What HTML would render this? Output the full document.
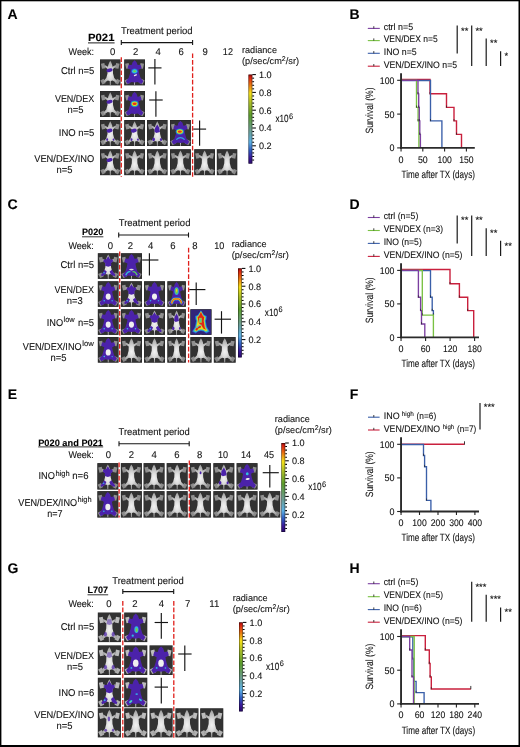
<!DOCTYPE html>
<html><head><meta charset="utf-8"><title>Figure</title>
<style>html,body{margin:0;padding:0;background:#fff}body{width:520px;height:747px;overflow:hidden}svg{display:block;font-family:"Liberation Sans",sans-serif;fill:#111;text-rendering:geometricPrecision}text{stroke:#111;stroke-width:0.1px;paint-order:stroke}</style></head><body>
<svg width="520" height="747" viewBox="0 0 520 747">
<defs>
<linearGradient id="cb" x1="0" y1="0" x2="0" y2="1"><stop offset="0" stop-color="#8a0a0a"/><stop offset="0.03" stop-color="#d82010"/><stop offset="0.11" stop-color="#e87010"/><stop offset="0.21" stop-color="#f4e018"/><stop offset="0.32" stop-color="#a8bc28"/><stop offset="0.46" stop-color="#5a9c2c"/><stop offset="0.62" stop-color="#6c9c8c"/><stop offset="0.76" stop-color="#5cb0e4"/><stop offset="0.85" stop-color="#2f5cc0"/><stop offset="0.93" stop-color="#3a1a9a"/><stop offset="1" stop-color="#2a0a6a"/></linearGradient>
<filter id="bl" x="-5%" y="-5%" width="110%" height="110%"><feGaussianBlur stdDeviation="0.5"/></filter>
<radialGradient id="mg" cx="0.5" cy="0.55" r="0.55"><stop offset="0" stop-color="#f2f2f2"/><stop offset="0.35" stop-color="#dedede"/><stop offset="1" stop-color="#9c9c9c"/></radialGradient>
<symbol id="m" viewBox="0 0 20 26" preserveAspectRatio="none"><rect x="1.4" y="4" width="3.4" height="5.2" fill="#909090" transform="rotate(-12 3 6.5)"/><rect x="15.2" y="4" width="3.4" height="5.2" fill="#909090" transform="rotate(12 17 6.5)"/><rect x="1.2" y="20" width="3.6" height="4.6" fill="#8a8a8a" transform="rotate(-28 3 22.4)"/><rect x="15.2" y="20" width="3.6" height="4.6" fill="#8a8a8a" transform="rotate(28 17 22.4)"/><path d="M10,1.3 L11.1,3.4 L12,5.8 L12.2,7.3 L15.2,5.6 L15.9,7.1 L12.6,9.6 L12.7,14 L13.9,18.6 L16.9,21.8 L15.8,23.3 L12.4,21 L10.5,21.6 L10.35,26 L9.65,26 L9.5,21.6 L7.6,21 L4.2,23.3 L3.1,21.8 L6.1,18.6 L7.3,14 L7.4,9.6 L4.1,7.1 L4.8,5.6 L7.8,7.3 L8,5.8 L8.9,3.4 Z" fill="url(#mg)"/></symbol>
<symbol id="m2" viewBox="0 0 20 26" preserveAspectRatio="none"><rect x="1.4" y="4" width="3.4" height="5.2" fill="#bcbcbc" transform="rotate(-12 3 6.5)"/><rect x="15.2" y="4" width="3.4" height="5.2" fill="#bcbcbc" transform="rotate(12 17 6.5)"/><rect x="1.2" y="20" width="3.6" height="4.6" fill="#b0b0b0" transform="rotate(-28 3 22.4)"/><rect x="15.2" y="20" width="3.6" height="4.6" fill="#b0b0b0" transform="rotate(28 17 22.4)"/><path d="M10,1.3 L11.1,3.4 L12,5.8 L12.2,7.3 L15.2,5.6 L15.9,7.1 L12.6,9.6 L12.7,14 L13.9,18.6 L16.9,21.8 L15.8,23.3 L12.4,21 L10.5,21.6 L10.35,26 L9.65,26 L9.5,21.6 L7.6,21 L4.2,23.3 L3.1,21.8 L6.1,18.6 L7.3,14 L7.4,9.6 L4.1,7.1 L4.8,5.6 L7.8,7.3 L8,5.8 L8.9,3.4 Z" fill="url(#mg)"/></symbol>
<symbol id="o_s" viewBox="0 0 20 26" preserveAspectRatio="none"><ellipse cx="9.3" cy="10.8" rx="3" ry="1.8" fill="#4c22aa" transform="rotate(-14 9.3 10.8)"/></symbol>
<symbol id="o_s2" viewBox="0 0 20 26" preserveAspectRatio="none"><ellipse cx="9.3" cy="10.6" rx="2.9" ry="1.9" fill="#4c22aa" transform="rotate(-14 9.3 10.6)"/><ellipse cx="7" cy="19.6" rx="0.9" ry="1.3" fill="#4c22aa"/><ellipse cx="13.2" cy="19.6" rx="0.8" ry="1.2" fill="#4c22aa"/></symbol>
<symbol id="o_s3" viewBox="0 0 20 26" preserveAspectRatio="none"><g opacity="0.7"><ellipse cx="9.6" cy="9.6" rx="1.1" ry="2.2" fill="#4c22aa"/><ellipse cx="6.8" cy="19.6" rx="1.2" ry="1.4" fill="#4c22aa"/><ellipse cx="13.2" cy="19.6" rx="1" ry="1.3" fill="#4c22aa"/></g></symbol>
<symbol id="o_t" viewBox="0 0 20 26" preserveAspectRatio="none"><ellipse cx="10.2" cy="9.5" rx="0.9" ry="1.5" fill="#4c22aa"/></symbol>
<symbol id="o_m" viewBox="0 0 20 26" preserveAspectRatio="none"><path d="M10,4.4 L11.8,7.6 L12.6,12 L9,13 L7.2,11.6 L7.8,8 Z" fill="#4c22aa"/><ellipse cx="6.4" cy="19.4" rx="1.3" ry="1.8" fill="#4c22aa"/><ellipse cx="13.6" cy="19.4" rx="1" ry="1.5" fill="#4c22aa"/></symbol>
<symbol id="o_l" viewBox="0 0 20 26" preserveAspectRatio="none"><path d="M10,3 L11.8,6 L14.6,6.6 L14.4,9 L12.8,10 L13,12.6 L10,13.6 L7,12.6 L7.2,10 L5.6,9 L5.4,6.6 L8.2,6 Z" fill="#4c22aa"/><path d="M6.4,16.8 L8.6,18.6 L7.4,21.6 L4,23.4 L3,22 L5.2,19 Z" fill="#4c22aa"/><path d="M13.6,16.8 L11.4,18.6 L12.6,21.6 L16,23.4 L17,22 L14.8,19 Z" fill="#4c22aa"/><circle cx="6" cy="19.8" r="0.8" fill="#35b0e6"/></symbol>
<symbol id="o_L" viewBox="0 0 20 26" preserveAspectRatio="none"><path d="M10,0.9 L11.9,2.8 L12.9,5.7 L15.8,5.3 L16.8,8.8 L13.8,10.4 L14.4,14 L15.7,18.4 L18.4,21.8 L16.6,24.6 L12.8,22.5 L10,23.1 L7.2,22.5 L3.4,24.6 L1.6,21.8 L4.3,18.4 L5.6,14 L6.2,10.4 L3.2,8.8 L4.2,5.3 L7.1,5.7 L8.1,2.8 Z" fill="#4c22aa"/><ellipse cx="10" cy="15.6" rx="2.4" ry="3.2" fill="#f0f0f0"/><circle cx="6.2" cy="19.8" r="0.8" fill="#35b0e6"/><circle cx="13.8" cy="19.8" r="0.7" fill="#35b0e6"/></symbol>
<symbol id="o_f" viewBox="0 0 20 26" preserveAspectRatio="none"><path d="M10,0.9 L11.9,2.8 L12.9,5.7 L15.8,5.3 L16.8,8.8 L13.8,10.4 L14.4,14 L15.7,18.4 L18.4,21.8 L16.6,24.6 L12.8,22.5 L10,23.1 L7.2,22.5 L3.4,24.6 L1.6,21.8 L4.3,18.4 L5.6,14 L6.2,10.4 L3.2,8.8 L4.2,5.3 L7.1,5.7 L8.1,2.8 Z" fill="#4c22aa"/></symbol>
<symbol id="o_h1" viewBox="0 0 20 26" preserveAspectRatio="none"><path d="M10,0.9 L11.9,2.8 L12.9,5.7 L15.8,5.3 L16.8,8.8 L13.8,10.4 L14.4,14 L15.7,18.4 L18.4,21.8 L16.6,24.6 L12.8,22.5 L10,23.1 L7.2,22.5 L3.4,24.6 L1.6,21.8 L4.3,18.4 L5.6,14 L6.2,10.4 L3.2,8.8 L4.2,5.3 L7.1,5.7 L8.1,2.8 Z" fill="#4c22aa"/><ellipse cx="10" cy="11.8" rx="3.1" ry="2.7" fill="#2a5fd8"/><ellipse cx="10" cy="11.8" rx="2.4" ry="2" fill="#2fc3e0"/><ellipse cx="10" cy="11.8" rx="1.3" ry="1" fill="#7ad03a"/><ellipse cx="10.8" cy="15.8" rx="1.7" ry="0.7" fill="#eee" transform="rotate(-25 10.8 15.8)"/></symbol>
<symbol id="o_h1b" viewBox="0 0 20 26" preserveAspectRatio="none"><path d="M10,0.9 L11.9,2.8 L12.9,5.7 L15.8,5.3 L16.8,8.8 L13.8,10.4 L14.4,14 L15.7,18.4 L18.4,21.8 L16.6,24.6 L12.8,22.5 L10,23.1 L7.2,22.5 L3.4,24.6 L1.6,21.8 L4.3,18.4 L5.6,14 L6.2,10.4 L3.2,8.8 L4.2,5.3 L7.1,5.7 L8.1,2.8 Z" fill="#4c22aa"/><ellipse cx="10.2" cy="10.4" rx="1.3" ry="1.5" fill="#2fc3e0"/><ellipse cx="10.6" cy="15.6" rx="2" ry="0.9" fill="#eee" transform="rotate(-10 10.6 15.6)"/></symbol>
<symbol id="o_h2" viewBox="0 0 20 26" preserveAspectRatio="none"><path d="M10,0.9 L11.9,2.8 L12.9,5.7 L15.8,5.3 L16.8,8.8 L13.8,10.4 L14.4,14 L15.7,18.4 L18.4,21.8 L16.6,24.6 L12.8,22.5 L10,23.1 L7.2,22.5 L3.4,24.6 L1.6,21.8 L4.3,18.4 L5.6,14 L6.2,10.4 L3.2,8.8 L4.2,5.3 L7.1,5.7 L8.1,2.8 Z" fill="#4c22aa"/><ellipse cx="10" cy="12.8" rx="3.9" ry="3.4" fill="#2a5fd8"/><ellipse cx="10" cy="12.8" rx="3.3" ry="2.8" fill="#2fc3a0"/><ellipse cx="10" cy="12.8" rx="2.7" ry="2.1" fill="#e8e020"/><ellipse cx="10" cy="12.8" rx="2" ry="1.3" fill="#e8301a"/></symbol>
<symbol id="o_h2b" viewBox="0 0 20 26" preserveAspectRatio="none"><path d="M10,0.9 L11.9,2.8 L12.9,5.7 L15.8,5.3 L16.8,8.8 L13.8,10.4 L14.4,14 L15.7,18.4 L18.4,21.8 L16.6,24.6 L12.8,22.5 L10,23.1 L7.2,22.5 L3.4,24.6 L1.6,21.8 L4.3,18.4 L5.6,14 L6.2,10.4 L3.2,8.8 L4.2,5.3 L7.1,5.7 L8.1,2.8 Z" fill="#4c22aa"/><ellipse cx="9.4" cy="11.6" rx="4" ry="3.2" fill="#2a5fd8"/><ellipse cx="9.4" cy="11.6" rx="3.4" ry="2.6" fill="#2fc3a0"/><ellipse cx="9.4" cy="11.6" rx="2.8" ry="2" fill="#e8e020"/><ellipse cx="9.4" cy="11.6" rx="2" ry="1.2" fill="#e8301a"/><path d="M6,19.6 Q10,15.6 14,19.6" stroke="#2fa8e0" stroke-width="1.2" fill="none"/></symbol>
<symbol id="o_h3" viewBox="0 0 20 26" preserveAspectRatio="none"><path d="M10,0.9 L11.9,2.8 L12.9,5.7 L15.8,5.3 L16.8,8.8 L13.8,10.4 L14.4,14 L15.7,18.4 L18.4,21.8 L16.6,24.6 L12.8,22.5 L10,23.1 L7.2,22.5 L3.4,24.6 L1.6,21.8 L4.3,18.4 L5.6,14 L6.2,10.4 L3.2,8.8 L4.2,5.3 L7.1,5.7 L8.1,2.8 Z" fill="#4c22aa"/><path d="M4.6,22.4 Q6.4,18 9,18.8" stroke="#30c0d8" stroke-width="1.3" fill="none"/><path d="M15.4,22.4 Q13.6,18 11,18.8" stroke="#58c860" stroke-width="1.3" fill="none"/><ellipse cx="10" cy="16.6" rx="2.2" ry="0.8" fill="#ddd"/></symbol>
<symbol id="o_h3g" viewBox="0 0 20 26" preserveAspectRatio="none"><path d="M10,0.9 L11.9,2.8 L12.9,5.7 L15.8,5.3 L16.8,8.8 L13.8,10.4 L14.4,14 L15.7,18.4 L18.4,21.8 L16.6,24.6 L12.8,22.5 L10,23.1 L7.2,22.5 L3.4,24.6 L1.6,21.8 L4.3,18.4 L5.6,14 L6.2,10.4 L3.2,8.8 L4.2,5.3 L7.1,5.7 L8.1,2.8 Z" fill="#4c22aa"/><ellipse cx="10.6" cy="15" rx="1.8" ry="3" fill="#2fb8e0"/><ellipse cx="10.8" cy="15.4" rx="0.9" ry="1.8" fill="#7ad03a"/><circle cx="7.4" cy="20.4" r="1" fill="#2fb8e0"/></symbol>
<symbol id="o_h3h" viewBox="0 0 20 26" preserveAspectRatio="none"><path d="M10,0.9 L11.9,2.8 L12.9,5.7 L15.8,5.3 L16.8,8.8 L13.8,10.4 L14.4,14 L15.7,18.4 L18.4,21.8 L16.6,24.6 L12.8,22.5 L10,23.1 L7.2,22.5 L3.4,24.6 L1.6,21.8 L4.3,18.4 L5.6,14 L6.2,10.4 L3.2,8.8 L4.2,5.3 L7.1,5.7 L8.1,2.8 Z" fill="#4c22aa"/><ellipse cx="5.6" cy="21" rx="1.7" ry="0.9" fill="#2fc3e0" transform="rotate(-40 5.6 21)"/><ellipse cx="5.6" cy="21" rx="0.9" ry="0.45" fill="#7ad88a" transform="rotate(-40 5.6 21)"/><ellipse cx="14" cy="19.4" rx="1.5" ry="0.8" fill="#2fc3e0" transform="rotate(40 14 19.4)"/><ellipse cx="10.8" cy="14.4" rx="1.1" ry="0.8" fill="#35a8e8"/></symbol>
<symbol id="o_h4" viewBox="0 0 20 26" preserveAspectRatio="none"><path d="M10,0.9 L11.9,2.8 L12.9,5.7 L15.8,5.3 L16.8,8.8 L13.8,10.4 L14.4,14 L15.7,18.4 L18.4,21.8 L16.6,24.6 L12.8,22.5 L10,23.1 L7.2,22.5 L3.4,24.6 L1.6,21.8 L4.3,18.4 L5.6,14 L6.2,10.4 L3.2,8.8 L4.2,5.3 L7.1,5.7 L8.1,2.8 Z" fill="#4c22aa"/><ellipse cx="10" cy="10" rx="2.4" ry="4" fill="#30a8e0"/><ellipse cx="10" cy="10" rx="1.5" ry="3" fill="#7ad03a"/><ellipse cx="10" cy="9.4" rx="0.7" ry="1.4" fill="#f0d020"/><path d="M4.6,22.4 Q6,17 10,18 Q14,17 15.4,22.4" stroke="#2a5fd8" stroke-width="3.4" fill="none"/><path d="M4.6,22.4 Q6,17 10,18 Q14,17 15.4,22.4" stroke="#40c8a0" stroke-width="2.4" fill="none"/><path d="M4.6,22.4 Q6,17 10,18 Q14,17 15.4,22.4" stroke="#f0d020" stroke-width="1.6" fill="none"/><path d="M4.6,22.4 Q6,17 10,18 Q14,17 15.4,22.4" stroke="#e8301a" stroke-width="0.9" fill="none"/></symbol>
<symbol id="o_h5" viewBox="0 0 20 26" preserveAspectRatio="none"><rect x="0.4" y="0.4" width="19.2" height="25.2" fill="#30257a"/><path d="M10,1 L13,5.6 L15.6,7 L15.4,10 L14.6,12 L15.8,18 L18.4,22.6 L15,24.6 L12.4,22.6 L10,22 L7.6,22.6 L5,24.6 L1.6,22.6 L4.2,18 L5.4,12 L4.6,10 L4.4,7 L7,5.6 Z" fill="#2a55d8"/><path d="M10,1.6 L12.6,6 L14.8,7.4 L14.6,9.8 L13.9,11.8 L15.1,18.2 L17.4,22.2 L14.8,23.6 L12.3,21.8 L10,21.2 L7.7,21.8 L5.2,23.6 L2.6,22.2 L4.9,18.2 L6.1,11.8 L5.4,9.8 L5.2,7.4 L7.4,6 Z" fill="#38c8b8"/><path d="M10,2.2 L12.2,6.6 L13.9,7.9 L13.7,9.8 L13.2,11.8 L14.3,18.4 L16,21.6 L14.4,22.4 L12.2,20.8 L10,20.2 L7.8,20.8 L5.6,22.4 L4,21.6 L5.7,18.4 L6.8,11.8 L6.3,9.8 L6.1,7.9 L7.8,6.6 Z" fill="#e8d820"/><path d="M10,2.8 L11.9,7 L13.2,8.2 L12.9,10 L12.6,12 L13.6,18.4 L14.8,20.8 L12.2,19.4 L10.6,16.4 L8,14 L7.2,10 L6.9,8.2 L8.1,7 Z" fill="#e02818"/><rect x="8.2" y="8.8" width="2.6" height="5" fill="#9ad040"/><rect x="8.8" y="9.6" width="1.4" height="3.2" fill="#58c890"/><path d="M5.4,21.4 Q7,17.4 10,18" stroke="#e02818" stroke-width="1.7" fill="none"/><path d="M6,19 Q8,15.6 10.4,16.2" stroke="#38c8e0" stroke-width="1" fill="none"/></symbol>
<symbol id="o_g1" viewBox="0 0 20 26" preserveAspectRatio="none"><path d="M8.4,6 L11.6,6 L12.4,10 L10,11 L7.6,10 Z" fill="#4c22aa" opacity="0.5"/><ellipse cx="6.6" cy="19.2" rx="1.4" ry="2" fill="#4c22aa" opacity="0.7"/><ellipse cx="13.4" cy="19.2" rx="1.4" ry="2" fill="#4c22aa" opacity="0.7"/></symbol>
</defs>
<rect width="520" height="747" fill="#fff"/>
<g style="opacity:0.999">
<text x="7.6" y="19.3" font-size="14" font-weight="bold" fill="#000" stroke="#000" stroke-width="0.3">A</text>
<text x="349.6" y="19.3" font-size="14" font-weight="bold" fill="#000" stroke="#000" stroke-width="0.3">B</text>
<text x="7.6" y="209.1" font-size="14" font-weight="bold" fill="#000" stroke="#000" stroke-width="0.3">C</text>
<text x="349.6" y="209.1" font-size="14" font-weight="bold" fill="#000" stroke="#000" stroke-width="0.3">D</text>
<text x="7.8" y="399.1" font-size="14" font-weight="bold" fill="#000" stroke="#000" stroke-width="0.3">E</text>
<text x="349.8" y="399.1" font-size="14" font-weight="bold" fill="#000" stroke="#000" stroke-width="0.3">F</text>
<text x="7.6" y="573.1" font-size="14" font-weight="bold" fill="#000" stroke="#000" stroke-width="0.3">G</text>
<text x="349.6" y="572.7" font-size="14" font-weight="bold" fill="#000" stroke="#000" stroke-width="0.3">H</text>
<g id="pA">
<text x="88" y="41.2" font-size="10.5" font-weight="bold" textLength="26.5" lengthAdjust="spacingAndGlyphs" fill="#000">P021</text>
<line x1="88" y1="42.9" x2="114.6" y2="42.9" stroke="#000" stroke-width="0.9"/>
<text x="121" y="33.5" font-size="9.9" textLength="71.6" lengthAdjust="spacingAndGlyphs">Treatment period</text>
<line x1="121.3" y1="42.6" x2="192.6" y2="42.6" stroke="#141414" stroke-width="1.1"/>
<line x1="121.3" y1="40.1" x2="121.3" y2="45.1" stroke="#141414" stroke-width="1.1"/>
<line x1="192.6" y1="40.1" x2="192.6" y2="45.1" stroke="#141414" stroke-width="1.1"/>
<text x="94" y="55" font-size="9.9" text-anchor="end" textLength="25.4" lengthAdjust="spacingAndGlyphs">Week:</text>
<text x="112.6" y="55" font-size="9.8" text-anchor="middle" textLength="5.3" lengthAdjust="spacingAndGlyphs">0</text>
<text x="135.6" y="55" font-size="9.8" text-anchor="middle" textLength="5.3" lengthAdjust="spacingAndGlyphs">2</text>
<text x="158.2" y="55" font-size="9.8" text-anchor="middle" textLength="5.3" lengthAdjust="spacingAndGlyphs">4</text>
<text x="181.2" y="55" font-size="9.8" text-anchor="middle" textLength="5.3" lengthAdjust="spacingAndGlyphs">6</text>
<text x="205.2" y="55" font-size="9.8" text-anchor="middle" textLength="5.3" lengthAdjust="spacingAndGlyphs">9</text>
<text x="227.9" y="55" font-size="9.8" text-anchor="middle" textLength="10.1" lengthAdjust="spacingAndGlyphs">12</text>
<text x="94.4" y="74.2" font-size="9.9" text-anchor="end" textLength="33.5" lengthAdjust="spacingAndGlyphs">Ctrl n=5</text>
<text x="74.6" y="101.6" font-size="9.9" text-anchor="middle" textLength="39.4" lengthAdjust="spacingAndGlyphs">VEN/DEX</text>
<text x="75.4" y="113.4" font-size="9.9" text-anchor="middle" textLength="16" lengthAdjust="spacingAndGlyphs">n=5</text>
<text x="94.4" y="135.6" font-size="9.9" text-anchor="end" textLength="35.6" lengthAdjust="spacingAndGlyphs">INO n=5</text>
<text x="64.2" y="162" font-size="9.9" text-anchor="middle" textLength="60" lengthAdjust="spacingAndGlyphs">VEN/DEX/INO</text>
<text x="64.6" y="172.8" font-size="9.9" text-anchor="middle" textLength="16" lengthAdjust="spacingAndGlyphs">n=5</text>
<rect x="100" y="59.4" width="20.5" height="26" fill="#242424"/><rect x="100.5" y="59.9" width="19.5" height="25" fill="#323232"/>
<rect x="124.2" y="59.4" width="20.8" height="26" fill="#242424"/><rect x="124.7" y="59.9" width="19.8" height="25" fill="#323232"/>
<rect x="100" y="91" width="20.5" height="26" fill="#242424"/><rect x="100.5" y="91.5" width="19.5" height="25" fill="#323232"/>
<rect x="124.2" y="91" width="20.8" height="26" fill="#242424"/><rect x="124.7" y="91.5" width="19.8" height="25" fill="#323232"/>
<rect x="100" y="120" width="20.5" height="26" fill="#242424"/><rect x="100.5" y="120.5" width="19.5" height="25" fill="#323232"/>
<rect x="124.2" y="120" width="20.8" height="26" fill="#242424"/><rect x="124.7" y="120.5" width="19.8" height="25" fill="#323232"/>
<rect x="147" y="120" width="20.6" height="26" fill="#242424"/><rect x="147.5" y="120.5" width="19.6" height="25" fill="#323232"/>
<rect x="170" y="120" width="20.9" height="26" fill="#242424"/><rect x="170.5" y="120.5" width="19.9" height="25" fill="#323232"/>
<rect x="100" y="149.2" width="20.5" height="26" fill="#242424"/><rect x="100.5" y="149.7" width="19.5" height="25" fill="#323232"/>
<rect x="124.2" y="149.2" width="20.8" height="26" fill="#242424"/><rect x="124.7" y="149.7" width="19.8" height="25" fill="#323232"/>
<rect x="147" y="149.2" width="20.6" height="26" fill="#242424"/><rect x="147.5" y="149.7" width="19.6" height="25" fill="#323232"/>
<rect x="170" y="149.2" width="20.9" height="26" fill="#242424"/><rect x="170.5" y="149.7" width="19.9" height="25" fill="#323232"/>
<rect x="194.2" y="149.2" width="20.8" height="26" fill="#242424"/><rect x="194.7" y="149.7" width="19.8" height="25" fill="#323232"/>
<rect x="216.8" y="149.2" width="20.5" height="26" fill="#242424"/><rect x="217.3" y="149.7" width="19.5" height="25" fill="#323232"/>
<g filter="url(#bl)">
<use href="#m" x="100" y="59.4" width="20.5" height="26"/>
<use href="#o_s" x="100" y="59.4" width="20.5" height="26"/>
<use href="#m" x="124.2" y="59.4" width="20.8" height="26"/>
<use href="#o_h1" x="124.2" y="59.4" width="20.8" height="26"/>
<use href="#m" x="100" y="91" width="20.5" height="26"/>
<use href="#o_s" x="100" y="91" width="20.5" height="26"/>
<use href="#m" x="124.2" y="91" width="20.8" height="26"/>
<use href="#o_h2" x="124.2" y="91" width="20.8" height="26"/>
<use href="#m" x="100" y="120" width="20.5" height="26"/>
<use href="#o_s2" x="100" y="120" width="20.5" height="26"/>
<use href="#m" x="124.2" y="120" width="20.8" height="26"/>
<use href="#o_s2" x="124.2" y="120" width="20.8" height="26"/>
<use href="#m" x="147" y="120" width="20.6" height="26"/>
<use href="#o_m" x="147" y="120" width="20.6" height="26"/>
<use href="#m" x="170" y="120" width="20.9" height="26"/>
<use href="#o_h2b" x="170" y="120" width="20.9" height="26"/>
<use href="#m" x="100" y="149.2" width="20.5" height="26"/>
<use href="#o_s" x="100" y="149.2" width="20.5" height="26"/>
<use href="#m" x="124.2" y="149.2" width="20.8" height="26"/>
<use href="#m" x="147" y="149.2" width="20.6" height="26"/>
<use href="#m" x="170" y="149.2" width="20.9" height="26"/>
<use href="#m" x="194.2" y="149.2" width="20.8" height="26"/>
<use href="#m" x="216.8" y="149.2" width="20.5" height="26"/>
</g>
<line x1="154.9" y1="59.1" x2="154.9" y2="84.4" stroke="#141414" stroke-width="1.15"/>
<line x1="148.3" y1="67.9" x2="161.5" y2="67.9" stroke="#141414" stroke-width="1.15"/>
<line x1="155.9" y1="91.3" x2="155.9" y2="116.7" stroke="#141414" stroke-width="1.15"/>
<line x1="149.2" y1="100" x2="162.7" y2="100" stroke="#141414" stroke-width="1.15"/>
<line x1="199.6" y1="120.6" x2="199.6" y2="145.8" stroke="#141414" stroke-width="1.15"/>
<line x1="193.2" y1="129.1" x2="206.1" y2="129.1" stroke="#141414" stroke-width="1.15"/>
<line x1="121.3" y1="57.2" x2="121.3" y2="176.8" stroke="#e0201c" stroke-width="1.3" stroke-dasharray="4.7 1.9"/>
<line x1="192.6" y1="53.4" x2="192.6" y2="176.8" stroke="#e0201c" stroke-width="1.3" stroke-dasharray="4.7 1.9"/>
<rect x="248.5" y="74.6" width="3.8" height="89" fill="url(#cb)"/>
<rect x="248.8" y="74.89999999999999" width="3.1999999999999997" height="88.4" fill="none" stroke="#000" stroke-width="0.6" opacity="0.6"/>
<line x1="252.3" y1="74.6" x2="255.9" y2="74.6" stroke="#000" stroke-width="1.05"/>
<line x1="252.3" y1="78.16" x2="254.10000000000002" y2="78.16" stroke="#000" stroke-width="1.05"/>
<line x1="252.3" y1="81.72" x2="254.10000000000002" y2="81.72" stroke="#000" stroke-width="1.05"/>
<line x1="252.3" y1="85.28" x2="254.10000000000002" y2="85.28" stroke="#000" stroke-width="1.05"/>
<line x1="252.3" y1="88.84" x2="254.10000000000002" y2="88.84" stroke="#000" stroke-width="1.05"/>
<line x1="252.3" y1="92.4" x2="255.9" y2="92.4" stroke="#000" stroke-width="1.05"/>
<line x1="252.3" y1="95.96" x2="254.10000000000002" y2="95.96" stroke="#000" stroke-width="1.05"/>
<line x1="252.3" y1="99.52" x2="254.10000000000002" y2="99.52" stroke="#000" stroke-width="1.05"/>
<line x1="252.3" y1="103.08" x2="254.10000000000002" y2="103.08" stroke="#000" stroke-width="1.05"/>
<line x1="252.3" y1="106.64" x2="254.10000000000002" y2="106.64" stroke="#000" stroke-width="1.05"/>
<line x1="252.3" y1="110.2" x2="255.9" y2="110.2" stroke="#000" stroke-width="1.05"/>
<line x1="252.3" y1="113.76" x2="254.10000000000002" y2="113.76" stroke="#000" stroke-width="1.05"/>
<line x1="252.3" y1="117.32" x2="254.10000000000002" y2="117.32" stroke="#000" stroke-width="1.05"/>
<line x1="252.3" y1="120.88" x2="254.10000000000002" y2="120.88" stroke="#000" stroke-width="1.05"/>
<line x1="252.3" y1="124.44" x2="254.10000000000002" y2="124.44" stroke="#000" stroke-width="1.05"/>
<line x1="252.3" y1="128.0" x2="255.9" y2="128.0" stroke="#000" stroke-width="1.05"/>
<line x1="252.3" y1="131.56" x2="254.10000000000002" y2="131.56" stroke="#000" stroke-width="1.05"/>
<line x1="252.3" y1="135.12" x2="254.10000000000002" y2="135.12" stroke="#000" stroke-width="1.05"/>
<line x1="252.3" y1="138.68" x2="254.10000000000002" y2="138.68" stroke="#000" stroke-width="1.05"/>
<line x1="252.3" y1="142.24" x2="254.10000000000002" y2="142.24" stroke="#000" stroke-width="1.05"/>
<line x1="252.3" y1="145.8" x2="255.9" y2="145.8" stroke="#000" stroke-width="1.05"/>
<line x1="252.3" y1="149.36" x2="254.10000000000002" y2="149.36" stroke="#000" stroke-width="1.05"/>
<line x1="252.3" y1="152.92" x2="254.10000000000002" y2="152.92" stroke="#000" stroke-width="1.05"/>
<line x1="252.3" y1="156.48" x2="254.10000000000002" y2="156.48" stroke="#000" stroke-width="1.05"/>
<line x1="252.3" y1="160.04" x2="254.10000000000002" y2="160.04" stroke="#000" stroke-width="1.05"/>
<text x="259" y="77.9" font-size="9.2" textLength="12.7" lengthAdjust="spacingAndGlyphs">1.0</text>
<text x="259" y="95.7" font-size="9.2" textLength="12.7" lengthAdjust="spacingAndGlyphs">0.8</text>
<text x="259" y="113.5" font-size="9.2" textLength="12.7" lengthAdjust="spacingAndGlyphs">0.6</text>
<text x="259" y="131.3" font-size="9.2" textLength="12.7" lengthAdjust="spacingAndGlyphs">0.4</text>
<text x="259" y="149.1" font-size="9.2" textLength="12.7" lengthAdjust="spacingAndGlyphs">0.2</text>
<text x="275.4" y="122.4" font-size="10.5" textLength="13.2" lengthAdjust="spacingAndGlyphs">x10</text>
<text x="289.09999999999997" y="118.80000000000001" font-size="8" textLength="4.1" lengthAdjust="spacingAndGlyphs">6</text>
<text x="242" y="53.2" font-size="9.2" textLength="35" lengthAdjust="spacingAndGlyphs">radiance</text>
<text x="242" y="63.800000000000004" font-size="9.2">(p/sec/cm<tspan font-size="7" dy="-3">2</tspan><tspan dy="3">/sr)</tspan></text>
</g>
<g id="pB">
<line x1="367.8" y1="28.4" x2="379.8" y2="28.4" stroke="#7b3fa0" stroke-width="1.1"/>
<line x1="373.8" y1="26.2" x2="373.8" y2="28.4" stroke="#111" stroke-width="0.8"/>
<text x="383.7" y="29.799999999999997" font-size="9.3" textLength="29.4" lengthAdjust="spacingAndGlyphs">ctrl n=5</text>
<line x1="367.8" y1="40.6" x2="379.8" y2="40.6" stroke="#79c143" stroke-width="1.1"/>
<line x1="373.8" y1="38.4" x2="373.8" y2="40.6" stroke="#111" stroke-width="0.8"/>
<text x="383.7" y="42.0" font-size="9.3" textLength="54" lengthAdjust="spacingAndGlyphs">VEN/DEX n=5</text>
<line x1="367.8" y1="53.3" x2="379.8" y2="53.3" stroke="#3a5fa9" stroke-width="1.1"/>
<line x1="373.8" y1="51.099999999999994" x2="373.8" y2="53.3" stroke="#111" stroke-width="0.8"/>
<text x="383.7" y="54.699999999999996" font-size="9.3" textLength="33" lengthAdjust="spacingAndGlyphs">INO n=5</text>
<line x1="367.8" y1="66.2" x2="379.8" y2="66.2" stroke="#c9203d" stroke-width="1.1"/>
<line x1="373.8" y1="64.0" x2="373.8" y2="66.2" stroke="#111" stroke-width="0.8"/>
<text x="383.7" y="67.60000000000001" font-size="9.3" textLength="73.4" lengthAdjust="spacingAndGlyphs">VEN/DEX/INO n=5</text>
<line x1="457.2" y1="25.6" x2="457.2" y2="53.4" stroke="#1a1a1a" stroke-width="1.2"/>
<line x1="471.7" y1="25.6" x2="471.7" y2="66" stroke="#1a1a1a" stroke-width="1.2"/>
<line x1="486.2" y1="38.6" x2="486.2" y2="66" stroke="#1a1a1a" stroke-width="1.2"/>
<line x1="500.6" y1="51.3" x2="500.6" y2="66" stroke="#1a1a1a" stroke-width="1.2"/>
<text x="461" y="33.800000000000004" font-size="9.4" letter-spacing="0">**</text>
<text x="475.4" y="33.800000000000004" font-size="9.4" letter-spacing="0">**</text>
<text x="490" y="46.0" font-size="9.4" letter-spacing="0">**</text>
<text x="504.4" y="58.800000000000004" font-size="9.4" letter-spacing="0">*</text>
<path d="M401.05,79.39999999999999 L430.0,79.4 L430.0,93.82 L446.5,93.82 L446.5,107.34 L454,107.34 L454,120.86 L456.5,120.86 L456.5,134.38 L461.5,134.38 L461.5,147.9" fill="none" stroke="#c9203d" stroke-width="1.4" stroke-linejoin="miter"/>
<line x1="430.0" y1="92.02" x2="430.0" y2="94.11999999999999" stroke="#222" stroke-width="0.7"/>
<line x1="446.5" y1="105.54" x2="446.5" y2="107.64" stroke="#222" stroke-width="0.7"/>
<line x1="454" y1="119.06" x2="454" y2="121.16" stroke="#222" stroke-width="0.7"/>
<line x1="456.5" y1="132.57999999999998" x2="456.5" y2="134.68" stroke="#222" stroke-width="0.7"/>
<path d="M401.05,80.5 L430.5,80.5 L430.5,120.86 L441.9,120.86 L441.9,147.9" fill="none" stroke="#3a5fa9" stroke-width="1.35" stroke-linejoin="miter"/>
<line x1="430.5" y1="119.06" x2="430.5" y2="121.16" stroke="#222" stroke-width="0.7"/>
<path d="M401.05,80.3 L416.5,80.3 L416.5,107.34 L418.1,107.34 L418.1,120.86 L418.9,120.86 L418.9,147.9" fill="none" stroke="#79c143" stroke-width="1.35" stroke-linejoin="miter"/>
<line x1="416.5" y1="105.54" x2="416.5" y2="107.64" stroke="#222" stroke-width="0.7"/>
<line x1="418.1" y1="119.06" x2="418.1" y2="121.16" stroke="#222" stroke-width="0.7"/>
<path d="M401.05,80.3 L418.0,80.3 L418.0,93.82 L418.7,93.82 L418.7,107.34 L419.3,107.34 L419.3,120.86 L419.8,120.86 L419.8,134.38 L420.4,134.38 L420.4,147.9" fill="none" stroke="#7b3fa0" stroke-width="1.35" stroke-linejoin="miter"/>
<line x1="418.0" y1="92.02" x2="418.0" y2="94.11999999999999" stroke="#222" stroke-width="0.7"/>
<line x1="418.7" y1="105.54" x2="418.7" y2="107.64" stroke="#222" stroke-width="0.7"/>
<line x1="419.3" y1="119.06" x2="419.3" y2="121.16" stroke="#222" stroke-width="0.7"/>
<line x1="419.8" y1="132.57999999999998" x2="419.8" y2="134.68" stroke="#222" stroke-width="0.7"/>
<line x1="401.05" y1="73.3" x2="401.05" y2="148.8" stroke="#2b2b2b" stroke-width="1.9"/>
<line x1="400.15000000000003" y1="147.9" x2="474.8" y2="147.9" stroke="#2b2b2b" stroke-width="1.9"/>
<line x1="397.15000000000003" y1="80.3" x2="401.05" y2="80.3" stroke="#222" stroke-width="1.1"/>
<text x="394.45" y="83.7" font-size="9.6" text-anchor="end" textLength="14.6" lengthAdjust="spacingAndGlyphs">100</text>
<line x1="397.15000000000003" y1="114.1" x2="401.05" y2="114.1" stroke="#222" stroke-width="1.1"/>
<text x="394.45" y="117.5" font-size="9.6" text-anchor="end" textLength="10.0" lengthAdjust="spacingAndGlyphs">50</text>
<line x1="397.15000000000003" y1="147.9" x2="401.05" y2="147.9" stroke="#222" stroke-width="1.1"/>
<text x="394.45" y="151.3" font-size="9.6" text-anchor="end" textLength="5.0" lengthAdjust="spacingAndGlyphs">0</text>
<line x1="401.05" y1="147.9" x2="401.05" y2="151.4" stroke="#222" stroke-width="1.1"/>
<text x="401.05" y="162.8" font-size="9.6" text-anchor="middle" textLength="5.0" lengthAdjust="spacingAndGlyphs">0</text>
<line x1="422.8" y1="147.9" x2="422.8" y2="151.4" stroke="#222" stroke-width="1.1"/>
<text x="422.8" y="162.8" font-size="9.6" text-anchor="middle" textLength="9.8" lengthAdjust="spacingAndGlyphs">50</text>
<line x1="444.6" y1="147.9" x2="444.6" y2="151.4" stroke="#222" stroke-width="1.1"/>
<text x="444.6" y="162.8" font-size="9.6" text-anchor="middle" textLength="14.4" lengthAdjust="spacingAndGlyphs">100</text>
<line x1="466.4" y1="147.9" x2="466.4" y2="151.4" stroke="#222" stroke-width="1.1"/>
<text x="466.4" y="162.8" font-size="9.6" text-anchor="middle" textLength="14.4" lengthAdjust="spacingAndGlyphs">150</text>
<text x="438.2" y="177.6" font-size="10.6" text-anchor="middle" textLength="73.4" lengthAdjust="spacingAndGlyphs">Time after TX (days)</text>
<text transform="translate(372.5,110.5) rotate(-90)" font-size="10.6" text-anchor="middle" textLength="46" lengthAdjust="spacingAndGlyphs">Survival (%)</text>
</g>
<g id="pC">
<text x="82" y="235.4" font-size="9.2" font-weight="bold" textLength="21.3" lengthAdjust="spacingAndGlyphs" fill="#000">P020</text>
<line x1="82" y1="236.8" x2="103.4" y2="236.8" stroke="#000" stroke-width="0.8"/>
<text x="118.8" y="226.2" font-size="9.9" textLength="71.6" lengthAdjust="spacingAndGlyphs">Treatment period</text>
<line x1="118.7" y1="235" x2="188.5" y2="235" stroke="#141414" stroke-width="1.1"/>
<line x1="118.7" y1="232.5" x2="118.7" y2="237.5" stroke="#141414" stroke-width="1.1"/>
<line x1="188.5" y1="232.5" x2="188.5" y2="237.5" stroke="#141414" stroke-width="1.1"/>
<text x="93.8" y="249.4" font-size="9.9" text-anchor="end" textLength="25.4" lengthAdjust="spacingAndGlyphs">Week:</text>
<text x="110.5" y="249.4" font-size="9.8" text-anchor="middle" textLength="5.3" lengthAdjust="spacingAndGlyphs">0</text>
<text x="130.4" y="249.4" font-size="9.8" text-anchor="middle" textLength="5.3" lengthAdjust="spacingAndGlyphs">2</text>
<text x="150.6" y="249.4" font-size="9.8" text-anchor="middle" textLength="5.3" lengthAdjust="spacingAndGlyphs">4</text>
<text x="173" y="249.4" font-size="9.8" text-anchor="middle" textLength="5.3" lengthAdjust="spacingAndGlyphs">6</text>
<text x="195" y="249.4" font-size="9.8" text-anchor="middle" textLength="5.3" lengthAdjust="spacingAndGlyphs">8</text>
<text x="219.2" y="249.4" font-size="9.8" text-anchor="middle" textLength="10.1" lengthAdjust="spacingAndGlyphs">10</text>
<text x="94" y="268.4" font-size="9.9" text-anchor="end" textLength="33.5" lengthAdjust="spacingAndGlyphs">Ctrl n=5</text>
<text x="74.2" y="292.6" font-size="9.9" text-anchor="middle" textLength="39.4" lengthAdjust="spacingAndGlyphs">VEN/DEX</text>
<text x="74.8" y="304.4" font-size="9.9" text-anchor="middle" textLength="16" lengthAdjust="spacingAndGlyphs">n=3</text>
<text x="46.7" y="326" font-size="10" textLength="16.4" lengthAdjust="spacingAndGlyphs">INO</text>
<text x="63.5" y="322.2" font-size="7.7" textLength="11.2" lengthAdjust="spacingAndGlyphs">low</text>
<text x="78.1" y="326" font-size="10" textLength="16" lengthAdjust="spacingAndGlyphs">n=5</text>
<text x="22.8" y="350.2" font-size="10" textLength="58.8" lengthAdjust="spacingAndGlyphs">VEN/DEX/INO</text>
<text x="82.2" y="346.4" font-size="7.7" textLength="11.6" lengthAdjust="spacingAndGlyphs">low</text>
<text x="50.5" y="361.2" font-size="10" textLength="16" lengthAdjust="spacingAndGlyphs">n=5</text>
<rect x="97.8" y="253.2" width="20.8" height="25.7" fill="#242424"/><rect x="98.3" y="253.7" width="19.8" height="24.7" fill="#323232"/>
<rect x="120.9" y="253.2" width="21.1" height="25.7" fill="#242424"/><rect x="121.4" y="253.7" width="20.1" height="24.7" fill="#323232"/>
<rect x="97.8" y="281.2" width="20.8" height="25.7" fill="#242424"/><rect x="98.3" y="281.7" width="19.8" height="24.7" fill="#323232"/>
<rect x="120.9" y="281.2" width="21.1" height="25.7" fill="#242424"/><rect x="121.4" y="281.7" width="20.1" height="24.7" fill="#323232"/>
<rect x="144" y="281.2" width="21" height="25.7" fill="#242424"/><rect x="144.5" y="281.7" width="20" height="24.7" fill="#323232"/>
<rect x="167.3" y="281.2" width="18.6" height="25.7" fill="#242424"/><rect x="167.8" y="281.7" width="17.6" height="24.7" fill="#323232"/>
<rect x="97.8" y="309.2" width="20.8" height="25.7" fill="#242424"/><rect x="98.3" y="309.7" width="19.8" height="24.7" fill="#323232"/>
<rect x="120.9" y="309.2" width="21.1" height="25.7" fill="#242424"/><rect x="121.4" y="309.7" width="20.1" height="24.7" fill="#323232"/>
<rect x="144" y="309.2" width="21" height="25.7" fill="#242424"/><rect x="144.5" y="309.7" width="20" height="24.7" fill="#323232"/>
<rect x="167.3" y="309.2" width="18.6" height="25.7" fill="#242424"/><rect x="167.8" y="309.7" width="17.6" height="24.7" fill="#323232"/>
<rect x="190.3" y="309.2" width="21.3" height="25.7" fill="#242424"/><rect x="190.8" y="309.7" width="20.3" height="24.7" fill="#323232"/>
<rect x="97.8" y="337" width="20.8" height="25.7" fill="#242424"/><rect x="98.3" y="337.5" width="19.8" height="24.7" fill="#323232"/>
<rect x="120.9" y="337" width="21.1" height="25.7" fill="#242424"/><rect x="121.4" y="337.5" width="20.1" height="24.7" fill="#323232"/>
<rect x="144" y="337" width="21" height="25.7" fill="#242424"/><rect x="144.5" y="337.5" width="20" height="24.7" fill="#323232"/>
<rect x="167.3" y="337" width="18.6" height="25.7" fill="#242424"/><rect x="167.8" y="337.5" width="17.6" height="24.7" fill="#323232"/>
<rect x="190.3" y="337" width="21.3" height="25.7" fill="#242424"/><rect x="190.8" y="337.5" width="20.3" height="24.7" fill="#323232"/>
<rect x="213.8" y="337" width="21.9" height="25.7" fill="#242424"/><rect x="214.3" y="337.5" width="20.9" height="24.7" fill="#323232"/>
<g filter="url(#bl)">
<use href="#m" x="97.8" y="253.2" width="20.8" height="25.7"/>
<use href="#o_l" x="97.8" y="253.2" width="20.8" height="25.7"/>
<use href="#m" x="120.9" y="253.2" width="21.1" height="25.7"/>
<use href="#o_h3" x="120.9" y="253.2" width="21.1" height="25.7"/>
<use href="#m" x="97.8" y="281.2" width="20.8" height="25.7"/>
<use href="#o_L" x="97.8" y="281.2" width="20.8" height="25.7"/>
<use href="#m" x="120.9" y="281.2" width="21.1" height="25.7"/>
<use href="#o_l" x="120.9" y="281.2" width="21.1" height="25.7"/>
<use href="#m" x="144" y="281.2" width="21" height="25.7"/>
<use href="#o_L" x="144" y="281.2" width="21" height="25.7"/>
<use href="#m" x="167.3" y="281.2" width="18.6" height="25.7"/>
<use href="#o_h4" x="167.3" y="281.2" width="18.6" height="25.7"/>
<use href="#m" x="97.8" y="309.2" width="20.8" height="25.7"/>
<use href="#o_L" x="97.8" y="309.2" width="20.8" height="25.7"/>
<use href="#m" x="120.9" y="309.2" width="21.1" height="25.7"/>
<use href="#o_L" x="120.9" y="309.2" width="21.1" height="25.7"/>
<use href="#m" x="144" y="309.2" width="21" height="25.7"/>
<use href="#o_l" x="144" y="309.2" width="21" height="25.7"/>
<use href="#m" x="167.3" y="309.2" width="18.6" height="25.7"/>
<use href="#o_m" x="167.3" y="309.2" width="18.6" height="25.7"/>
<use href="#m" x="190.3" y="309.2" width="21.3" height="25.7"/>
<use href="#o_h5" x="190.3" y="309.2" width="21.3" height="25.7"/>
<use href="#m" x="97.8" y="337" width="20.8" height="25.7"/>
<use href="#o_L" x="97.8" y="337" width="20.8" height="25.7"/>
<use href="#m" x="120.9" y="337" width="21.1" height="25.7"/>
<use href="#m" x="144" y="337" width="21" height="25.7"/>
<use href="#m" x="167.3" y="337" width="18.6" height="25.7"/>
<use href="#m" x="190.3" y="337" width="21.3" height="25.7"/>
<use href="#m" x="213.8" y="337" width="21.9" height="25.7"/>
</g>
<line x1="149.4" y1="253.2" x2="149.4" y2="275.4" stroke="#141414" stroke-width="1.15"/>
<line x1="142.2" y1="260" x2="158.4" y2="260" stroke="#141414" stroke-width="1.15"/>
<line x1="196.2" y1="282.6" x2="196.2" y2="305" stroke="#141414" stroke-width="1.15"/>
<line x1="189.2" y1="289.6" x2="205.4" y2="289.6" stroke="#141414" stroke-width="1.15"/>
<line x1="221.5" y1="311.2" x2="221.5" y2="333.6" stroke="#141414" stroke-width="1.15"/>
<line x1="214.6" y1="319.2" x2="231" y2="319.2" stroke="#141414" stroke-width="1.15"/>
<line x1="119.7" y1="251.6" x2="119.7" y2="362.6" stroke="#e0201c" stroke-width="1.3" stroke-dasharray="4.7 1.9"/>
<line x1="188.6" y1="247.8" x2="188.6" y2="362.6" stroke="#e0201c" stroke-width="1.3" stroke-dasharray="4.7 1.9"/>
<rect x="238" y="268.4" width="3.8" height="89" fill="url(#cb)"/>
<rect x="238.3" y="268.7" width="3.1999999999999997" height="88.4" fill="none" stroke="#000" stroke-width="0.6" opacity="0.6"/>
<line x1="241.8" y1="268.4" x2="245.4" y2="268.4" stroke="#000" stroke-width="1.05"/>
<line x1="241.8" y1="271.96" x2="243.60000000000002" y2="271.96" stroke="#000" stroke-width="1.05"/>
<line x1="241.8" y1="275.52" x2="243.60000000000002" y2="275.52" stroke="#000" stroke-width="1.05"/>
<line x1="241.8" y1="279.08" x2="243.60000000000002" y2="279.08" stroke="#000" stroke-width="1.05"/>
<line x1="241.8" y1="282.64" x2="243.60000000000002" y2="282.64" stroke="#000" stroke-width="1.05"/>
<line x1="241.8" y1="286.2" x2="245.4" y2="286.2" stroke="#000" stroke-width="1.05"/>
<line x1="241.8" y1="289.76" x2="243.60000000000002" y2="289.76" stroke="#000" stroke-width="1.05"/>
<line x1="241.8" y1="293.32" x2="243.60000000000002" y2="293.32" stroke="#000" stroke-width="1.05"/>
<line x1="241.8" y1="296.88" x2="243.60000000000002" y2="296.88" stroke="#000" stroke-width="1.05"/>
<line x1="241.8" y1="300.44" x2="243.60000000000002" y2="300.44" stroke="#000" stroke-width="1.05"/>
<line x1="241.8" y1="304.0" x2="245.4" y2="304.0" stroke="#000" stroke-width="1.05"/>
<line x1="241.8" y1="307.56" x2="243.60000000000002" y2="307.56" stroke="#000" stroke-width="1.05"/>
<line x1="241.8" y1="311.12" x2="243.60000000000002" y2="311.12" stroke="#000" stroke-width="1.05"/>
<line x1="241.8" y1="314.68" x2="243.60000000000002" y2="314.68" stroke="#000" stroke-width="1.05"/>
<line x1="241.8" y1="318.24" x2="243.60000000000002" y2="318.24" stroke="#000" stroke-width="1.05"/>
<line x1="241.8" y1="321.8" x2="245.4" y2="321.8" stroke="#000" stroke-width="1.05"/>
<line x1="241.8" y1="325.36" x2="243.60000000000002" y2="325.36" stroke="#000" stroke-width="1.05"/>
<line x1="241.8" y1="328.92" x2="243.60000000000002" y2="328.92" stroke="#000" stroke-width="1.05"/>
<line x1="241.8" y1="332.48" x2="243.60000000000002" y2="332.48" stroke="#000" stroke-width="1.05"/>
<line x1="241.8" y1="336.04" x2="243.60000000000002" y2="336.04" stroke="#000" stroke-width="1.05"/>
<line x1="241.8" y1="339.6" x2="245.4" y2="339.6" stroke="#000" stroke-width="1.05"/>
<line x1="241.8" y1="343.16" x2="243.60000000000002" y2="343.16" stroke="#000" stroke-width="1.05"/>
<line x1="241.8" y1="346.72" x2="243.60000000000002" y2="346.72" stroke="#000" stroke-width="1.05"/>
<line x1="241.8" y1="350.28" x2="243.60000000000002" y2="350.28" stroke="#000" stroke-width="1.05"/>
<line x1="241.8" y1="353.84" x2="243.60000000000002" y2="353.84" stroke="#000" stroke-width="1.05"/>
<text x="248.5" y="271.7" font-size="9.2" textLength="12.7" lengthAdjust="spacingAndGlyphs">1.0</text>
<text x="248.5" y="289.5" font-size="9.2" textLength="12.7" lengthAdjust="spacingAndGlyphs">0.8</text>
<text x="248.5" y="307.3" font-size="9.2" textLength="12.7" lengthAdjust="spacingAndGlyphs">0.6</text>
<text x="248.5" y="325.1" font-size="9.2" textLength="12.7" lengthAdjust="spacingAndGlyphs">0.4</text>
<text x="248.5" y="342.9" font-size="9.2" textLength="12.7" lengthAdjust="spacingAndGlyphs">0.2</text>
<text x="264.8" y="315.8" font-size="10.5" textLength="13.2" lengthAdjust="spacingAndGlyphs">x10</text>
<text x="278.5" y="312.2" font-size="8" textLength="4.1" lengthAdjust="spacingAndGlyphs">6</text>
<text x="231.7" y="247" font-size="9.2" textLength="35" lengthAdjust="spacingAndGlyphs">radiance</text>
<text x="231.7" y="257.6" font-size="9.2">(p/sec/cm<tspan font-size="7" dy="-3">2</tspan><tspan dy="3">/sr)</tspan></text>
</g>
<g id="pD">
<line x1="367.8" y1="217.5" x2="379.8" y2="217.5" stroke="#7b3fa0" stroke-width="1.1"/>
<line x1="373.8" y1="215.3" x2="373.8" y2="217.5" stroke="#111" stroke-width="0.8"/>
<text x="383.7" y="218.9" font-size="9.3" textLength="34.6" lengthAdjust="spacingAndGlyphs">ctrl (n=5)</text>
<line x1="367.8" y1="230.5" x2="379.8" y2="230.5" stroke="#79c143" stroke-width="1.1"/>
<line x1="373.8" y1="228.3" x2="373.8" y2="230.5" stroke="#111" stroke-width="0.8"/>
<text x="383.7" y="231.9" font-size="9.3" textLength="59.4" lengthAdjust="spacingAndGlyphs">VEN/DEX (n=3)</text>
<line x1="367.8" y1="243.4" x2="379.8" y2="243.4" stroke="#3a5fa9" stroke-width="1.1"/>
<line x1="373.8" y1="241.20000000000002" x2="373.8" y2="243.4" stroke="#111" stroke-width="0.8"/>
<text x="383.7" y="244.8" font-size="9.3" textLength="38.1" lengthAdjust="spacingAndGlyphs">INO (n=5)</text>
<line x1="367.8" y1="256.4" x2="379.8" y2="256.4" stroke="#c9203d" stroke-width="1.1"/>
<line x1="373.8" y1="254.2" x2="373.8" y2="256.4" stroke="#111" stroke-width="0.8"/>
<text x="383.7" y="257.79999999999995" font-size="9.3" textLength="78.8" lengthAdjust="spacingAndGlyphs">VEN/DEX/INO (n=5)</text>
<line x1="457.2" y1="215.4" x2="457.2" y2="243.4" stroke="#1a1a1a" stroke-width="1.2"/>
<line x1="471.7" y1="215.4" x2="471.7" y2="256" stroke="#1a1a1a" stroke-width="1.2"/>
<line x1="486.2" y1="228.2" x2="486.2" y2="256" stroke="#1a1a1a" stroke-width="1.2"/>
<line x1="500.6" y1="240.8" x2="500.6" y2="256" stroke="#1a1a1a" stroke-width="1.2"/>
<text x="461" y="223.39999999999998" font-size="9.4" letter-spacing="0">**</text>
<text x="475.4" y="223.39999999999998" font-size="9.4" letter-spacing="0">**</text>
<text x="490" y="236.39999999999998" font-size="9.4" letter-spacing="0">**</text>
<text x="504.6" y="249.0" font-size="9.4" letter-spacing="0">**</text>
<path d="M401.05,269.5 L450.0,269.5 L450.0,283.8 L459.4,283.8 L459.4,297.2 L467.7,297.2 L467.7,310.6 L473.7,310.6 L473.7,337.4" fill="none" stroke="#c9203d" stroke-width="1.4" stroke-linejoin="miter"/>
<line x1="450.0" y1="282.0" x2="450.0" y2="284.1" stroke="#222" stroke-width="0.7"/>
<line x1="459.4" y1="295.4" x2="459.4" y2="297.5" stroke="#222" stroke-width="0.7"/>
<line x1="467.7" y1="308.8" x2="467.7" y2="310.90000000000003" stroke="#222" stroke-width="0.7"/>
<path d="M401.05,270.59999999999997 L430.5,270.6 L430.5,297.2 L432.2,297.2 L432.2,310.6 L433.4,310.6 L433.4,315.09" fill="none" stroke="#3a5fa9" stroke-width="1.35" stroke-linejoin="miter"/>
<line x1="430.5" y1="295.4" x2="430.5" y2="297.5" stroke="#222" stroke-width="0.7"/>
<line x1="432.2" y1="308.8" x2="432.2" y2="310.90000000000003" stroke="#222" stroke-width="0.7"/>
<line x1="433.4" y1="313.28999999999996" x2="433.4" y2="315.39" stroke="#222" stroke-width="0.7"/>
<path d="M401.05,270.4 L422.3,270.4 L422.3,315.09 L433.4,315.09 L433.4,337.4" fill="none" stroke="#79c143" stroke-width="1.35" stroke-linejoin="miter"/>
<line x1="422.3" y1="313.28999999999996" x2="422.3" y2="315.39" stroke="#222" stroke-width="0.7"/>
<path d="M401.05,270.4 L418.4,270.4 L418.4,297.2 L420.6,297.2 L420.6,310.6 L421.5,310.6 L421.5,324.0 L424.8,324.0 L424.8,337.4" fill="none" stroke="#7b3fa0" stroke-width="1.35" stroke-linejoin="miter"/>
<line x1="418.4" y1="295.4" x2="418.4" y2="297.5" stroke="#222" stroke-width="0.7"/>
<line x1="420.6" y1="308.8" x2="420.6" y2="310.90000000000003" stroke="#222" stroke-width="0.7"/>
<line x1="421.5" y1="322.2" x2="421.5" y2="324.3" stroke="#222" stroke-width="0.7"/>
<line x1="401.05" y1="263.2" x2="401.05" y2="338.29999999999995" stroke="#2b2b2b" stroke-width="1.9"/>
<line x1="400.15000000000003" y1="337.4" x2="479" y2="337.4" stroke="#2b2b2b" stroke-width="1.9"/>
<line x1="397.15000000000003" y1="270.4" x2="401.05" y2="270.4" stroke="#222" stroke-width="1.1"/>
<text x="394.45" y="273.8" font-size="9.6" text-anchor="end" textLength="14.6" lengthAdjust="spacingAndGlyphs">100</text>
<line x1="397.15000000000003" y1="303.9" x2="401.05" y2="303.9" stroke="#222" stroke-width="1.1"/>
<text x="394.45" y="307.3" font-size="9.6" text-anchor="end" textLength="10.0" lengthAdjust="spacingAndGlyphs">50</text>
<line x1="397.15000000000003" y1="337.4" x2="401.05" y2="337.4" stroke="#222" stroke-width="1.1"/>
<text x="394.45" y="340.8" font-size="9.6" text-anchor="end" textLength="5.0" lengthAdjust="spacingAndGlyphs">0</text>
<line x1="401.05" y1="337.4" x2="401.05" y2="340.9" stroke="#222" stroke-width="1.1"/>
<text x="401.05" y="352.4" font-size="9.6" text-anchor="middle" textLength="5.0" lengthAdjust="spacingAndGlyphs">0</text>
<line x1="425.6" y1="337.4" x2="425.6" y2="340.9" stroke="#222" stroke-width="1.1"/>
<text x="425.6" y="352.4" font-size="9.6" text-anchor="middle" textLength="9.8" lengthAdjust="spacingAndGlyphs">60</text>
<line x1="450.1" y1="337.4" x2="450.1" y2="340.9" stroke="#222" stroke-width="1.1"/>
<text x="450.1" y="352.4" font-size="9.6" text-anchor="middle" textLength="14.4" lengthAdjust="spacingAndGlyphs">120</text>
<line x1="474.6" y1="337.4" x2="474.6" y2="340.9" stroke="#222" stroke-width="1.1"/>
<text x="474.6" y="352.4" font-size="9.6" text-anchor="middle" textLength="14.4" lengthAdjust="spacingAndGlyphs">180</text>
<text x="438.2" y="367.2" font-size="10.6" text-anchor="middle" textLength="73.4" lengthAdjust="spacingAndGlyphs">Time after TX (days)</text>
<text transform="translate(372.5,300.29999999999995) rotate(-90)" font-size="10.6" text-anchor="middle" textLength="46" lengthAdjust="spacingAndGlyphs">Survival (%)</text>
</g>
<g id="pE">
<text x="38.2" y="445.8" font-size="9.2" font-weight="bold" textLength="64.8" lengthAdjust="spacingAndGlyphs" fill="#000">P020 and P021</text>
<line x1="38.2" y1="446.9" x2="103.2" y2="446.9" stroke="#000" stroke-width="0.8"/>
<text x="118.6" y="435" font-size="9.9" textLength="71.2" lengthAdjust="spacingAndGlyphs">Treatment period</text>
<line x1="119" y1="443.7" x2="189.2" y2="443.7" stroke="#141414" stroke-width="1.1"/>
<line x1="119" y1="441.2" x2="119" y2="446.2" stroke="#141414" stroke-width="1.1"/>
<line x1="189.2" y1="441.2" x2="189.2" y2="446.2" stroke="#141414" stroke-width="1.1"/>
<text x="93.8" y="458.2" font-size="9.9" text-anchor="end" textLength="25.4" lengthAdjust="spacingAndGlyphs">Week:</text>
<text x="108.4" y="458.2" font-size="9.8" text-anchor="middle" textLength="5.3" lengthAdjust="spacingAndGlyphs">0</text>
<text x="131.5" y="458.2" font-size="9.8" text-anchor="middle" textLength="5.3" lengthAdjust="spacingAndGlyphs">2</text>
<text x="154.2" y="458.2" font-size="9.8" text-anchor="middle" textLength="5.3" lengthAdjust="spacingAndGlyphs">4</text>
<text x="177" y="458.2" font-size="9.8" text-anchor="middle" textLength="5.3" lengthAdjust="spacingAndGlyphs">6</text>
<text x="199.7" y="458.2" font-size="9.8" text-anchor="middle" textLength="5.3" lengthAdjust="spacingAndGlyphs">8</text>
<text x="223" y="458.2" font-size="9.8" text-anchor="middle" textLength="10.1" lengthAdjust="spacingAndGlyphs">10</text>
<text x="246" y="458.2" font-size="9.8" text-anchor="middle" textLength="10.1" lengthAdjust="spacingAndGlyphs">14</text>
<text x="269" y="458.2" font-size="9.8" text-anchor="middle" textLength="10.1" lengthAdjust="spacingAndGlyphs">45</text>
<text x="38.5" y="479.2" font-size="10" textLength="16.4" lengthAdjust="spacingAndGlyphs">INO</text>
<text x="55.4" y="475.6" font-size="7.7" textLength="14.2" lengthAdjust="spacingAndGlyphs">high</text>
<text x="72.3" y="479.2" font-size="10" textLength="16.2" lengthAdjust="spacingAndGlyphs">n=6</text>
<text x="18.3" y="505.8" font-size="10" textLength="58.8" lengthAdjust="spacingAndGlyphs">VEN/DEX/INO</text>
<text x="77.5" y="502.2" font-size="7.7" textLength="14.1" lengthAdjust="spacingAndGlyphs">high</text>
<text x="47.2" y="516.6" font-size="10" textLength="15.4" lengthAdjust="spacingAndGlyphs">n=7</text>
<rect x="97.3" y="463.1" width="21.1" height="26.5" fill="#242424"/><rect x="97.8" y="463.6" width="20.1" height="25.5" fill="#323232"/>
<rect x="120.8" y="463.1" width="21.1" height="26.5" fill="#242424"/><rect x="121.3" y="463.6" width="20.1" height="25.5" fill="#323232"/>
<rect x="143.5" y="463.1" width="21.1" height="26.5" fill="#242424"/><rect x="144.0" y="463.6" width="20.1" height="25.5" fill="#323232"/>
<rect x="166.6" y="463.1" width="21.1" height="26.5" fill="#242424"/><rect x="167.1" y="463.6" width="20.1" height="25.5" fill="#323232"/>
<rect x="189.8" y="463.1" width="21.1" height="26.5" fill="#242424"/><rect x="190.3" y="463.6" width="20.1" height="25.5" fill="#323232"/>
<rect x="213.3" y="463.1" width="21.1" height="26.5" fill="#242424"/><rect x="213.8" y="463.6" width="20.1" height="25.5" fill="#323232"/>
<rect x="236.5" y="463.1" width="21.1" height="26.5" fill="#242424"/><rect x="237.0" y="463.6" width="20.1" height="25.5" fill="#323232"/>
<rect x="97.3" y="491.1" width="21.1" height="26.5" fill="#242424"/><rect x="97.8" y="491.6" width="20.1" height="25.5" fill="#323232"/>
<rect x="120.8" y="491.1" width="21.1" height="26.5" fill="#242424"/><rect x="121.3" y="491.6" width="20.1" height="25.5" fill="#323232"/>
<rect x="143.5" y="491.1" width="21.1" height="26.5" fill="#242424"/><rect x="144.0" y="491.6" width="20.1" height="25.5" fill="#323232"/>
<rect x="166.6" y="491.1" width="21.1" height="26.5" fill="#242424"/><rect x="167.1" y="491.6" width="20.1" height="25.5" fill="#323232"/>
<rect x="189.8" y="491.1" width="21.1" height="26.5" fill="#242424"/><rect x="190.3" y="491.6" width="20.1" height="25.5" fill="#323232"/>
<rect x="213.3" y="491.1" width="21.1" height="26.5" fill="#242424"/><rect x="213.8" y="491.6" width="20.1" height="25.5" fill="#323232"/>
<rect x="236.5" y="491.1" width="21.1" height="26.5" fill="#242424"/><rect x="237.0" y="491.6" width="20.1" height="25.5" fill="#323232"/>
<rect x="259.2" y="491.1" width="21.1" height="26.5" fill="#242424"/><rect x="259.7" y="491.6" width="20.1" height="25.5" fill="#323232"/>
<g filter="url(#bl)">
<use href="#m" x="97.3" y="463.1" width="21.1" height="26.5"/>
<use href="#o_l" x="97.3" y="463.1" width="21.1" height="26.5"/>
<use href="#m" x="120.8" y="463.1" width="21.1" height="26.5"/>
<use href="#m" x="143.5" y="463.1" width="21.1" height="26.5"/>
<use href="#m" x="166.6" y="463.1" width="21.1" height="26.5"/>
<use href="#m" x="189.8" y="463.1" width="21.1" height="26.5"/>
<use href="#o_t" x="189.8" y="463.1" width="21.1" height="26.5"/>
<use href="#m" x="213.3" y="463.1" width="21.1" height="26.5"/>
<use href="#o_m" x="213.3" y="463.1" width="21.1" height="26.5"/>
<use href="#m" x="236.5" y="463.1" width="21.1" height="26.5"/>
<use href="#o_h1b" x="236.5" y="463.1" width="21.1" height="26.5"/>
<use href="#m" x="97.3" y="491.1" width="21.1" height="26.5"/>
<use href="#o_L" x="97.3" y="491.1" width="21.1" height="26.5"/>
<use href="#m" x="120.8" y="491.1" width="21.1" height="26.5"/>
<use href="#m" x="143.5" y="491.1" width="21.1" height="26.5"/>
<use href="#m" x="166.6" y="491.1" width="21.1" height="26.5"/>
<use href="#m" x="189.8" y="491.1" width="21.1" height="26.5"/>
<use href="#m" x="213.3" y="491.1" width="21.1" height="26.5"/>
<use href="#m" x="236.5" y="491.1" width="21.1" height="26.5"/>
<use href="#m" x="259.2" y="491.1" width="21.1" height="26.5"/>
</g>
<line x1="269.8" y1="465" x2="269.8" y2="487.6" stroke="#141414" stroke-width="1.15"/>
<line x1="262.7" y1="472.7" x2="278.8" y2="472.7" stroke="#141414" stroke-width="1.15"/>
<line x1="119.1" y1="462.6" x2="119.1" y2="517.6" stroke="#e0201c" stroke-width="1.3" stroke-dasharray="4.7 1.9"/>
<line x1="189.3" y1="460.4" x2="189.3" y2="517.6" stroke="#e0201c" stroke-width="1.3" stroke-dasharray="4.7 1.9"/>
<rect x="281.4" y="443" width="3.8" height="89" fill="url(#cb)"/>
<rect x="281.7" y="443.3" width="3.1999999999999997" height="88.4" fill="none" stroke="#000" stroke-width="0.6" opacity="0.6"/>
<line x1="285.2" y1="443.0" x2="288.8" y2="443.0" stroke="#000" stroke-width="1.05"/>
<line x1="285.2" y1="446.56" x2="287.0" y2="446.56" stroke="#000" stroke-width="1.05"/>
<line x1="285.2" y1="450.12" x2="287.0" y2="450.12" stroke="#000" stroke-width="1.05"/>
<line x1="285.2" y1="453.68" x2="287.0" y2="453.68" stroke="#000" stroke-width="1.05"/>
<line x1="285.2" y1="457.24" x2="287.0" y2="457.24" stroke="#000" stroke-width="1.05"/>
<line x1="285.2" y1="460.8" x2="288.8" y2="460.8" stroke="#000" stroke-width="1.05"/>
<line x1="285.2" y1="464.36" x2="287.0" y2="464.36" stroke="#000" stroke-width="1.05"/>
<line x1="285.2" y1="467.92" x2="287.0" y2="467.92" stroke="#000" stroke-width="1.05"/>
<line x1="285.2" y1="471.48" x2="287.0" y2="471.48" stroke="#000" stroke-width="1.05"/>
<line x1="285.2" y1="475.04" x2="287.0" y2="475.04" stroke="#000" stroke-width="1.05"/>
<line x1="285.2" y1="478.6" x2="288.8" y2="478.6" stroke="#000" stroke-width="1.05"/>
<line x1="285.2" y1="482.16" x2="287.0" y2="482.16" stroke="#000" stroke-width="1.05"/>
<line x1="285.2" y1="485.72" x2="287.0" y2="485.72" stroke="#000" stroke-width="1.05"/>
<line x1="285.2" y1="489.28" x2="287.0" y2="489.28" stroke="#000" stroke-width="1.05"/>
<line x1="285.2" y1="492.84" x2="287.0" y2="492.84" stroke="#000" stroke-width="1.05"/>
<line x1="285.2" y1="496.4" x2="288.8" y2="496.4" stroke="#000" stroke-width="1.05"/>
<line x1="285.2" y1="499.96" x2="287.0" y2="499.96" stroke="#000" stroke-width="1.05"/>
<line x1="285.2" y1="503.52" x2="287.0" y2="503.52" stroke="#000" stroke-width="1.05"/>
<line x1="285.2" y1="507.08" x2="287.0" y2="507.08" stroke="#000" stroke-width="1.05"/>
<line x1="285.2" y1="510.64" x2="287.0" y2="510.64" stroke="#000" stroke-width="1.05"/>
<line x1="285.2" y1="514.2" x2="288.8" y2="514.2" stroke="#000" stroke-width="1.05"/>
<line x1="285.2" y1="517.76" x2="287.0" y2="517.76" stroke="#000" stroke-width="1.05"/>
<line x1="285.2" y1="521.32" x2="287.0" y2="521.32" stroke="#000" stroke-width="1.05"/>
<line x1="285.2" y1="524.88" x2="287.0" y2="524.88" stroke="#000" stroke-width="1.05"/>
<line x1="285.2" y1="528.44" x2="287.0" y2="528.44" stroke="#000" stroke-width="1.05"/>
<text x="291.9" y="446.3" font-size="9.2" textLength="12.7" lengthAdjust="spacingAndGlyphs">1.0</text>
<text x="291.9" y="464.1" font-size="9.2" textLength="12.7" lengthAdjust="spacingAndGlyphs">0.8</text>
<text x="291.9" y="481.9" font-size="9.2" textLength="12.7" lengthAdjust="spacingAndGlyphs">0.6</text>
<text x="291.9" y="499.7" font-size="9.2" textLength="12.7" lengthAdjust="spacingAndGlyphs">0.4</text>
<text x="291.9" y="517.5" font-size="9.2" textLength="12.7" lengthAdjust="spacingAndGlyphs">0.2</text>
<text x="308.3" y="490.4" font-size="10.5" textLength="13.2" lengthAdjust="spacingAndGlyphs">x10</text>
<text x="322.0" y="486.79999999999995" font-size="8" textLength="4.1" lengthAdjust="spacingAndGlyphs">6</text>
<text x="274.8" y="422" font-size="9.2" textLength="35" lengthAdjust="spacingAndGlyphs">radiance</text>
<text x="274.8" y="432.6" font-size="9.2">(p/sec/cm<tspan font-size="7" dy="-3">2</tspan><tspan dy="3">/sr)</tspan></text>
</g>
<g id="pF">
<line x1="368" y1="417.2" x2="379.6" y2="417.2" stroke="#3a5fa9" stroke-width="1.1"/>
<line x1="373.8" y1="415" x2="373.8" y2="417.2" stroke="#111" stroke-width="0.8"/>
<line x1="368" y1="430" x2="379.6" y2="430" stroke="#c9203d" stroke-width="1.1"/>
<line x1="373.8" y1="427.8" x2="373.8" y2="430" stroke="#111" stroke-width="0.8"/>
<text x="383.7" y="419.2" font-size="9.3" textLength="15.9" lengthAdjust="spacingAndGlyphs">INO</text>
<text x="401.7" y="416.2" font-size="6.6" textLength="12.1" lengthAdjust="spacingAndGlyphs">high</text>
<text x="416.5" y="419.2" font-size="9.3" textLength="19.7" lengthAdjust="spacingAndGlyphs">(n=6)</text>
<text x="383.7" y="432" font-size="9.3" textLength="56.5" lengthAdjust="spacingAndGlyphs">VEN/DEX/INO</text>
<text x="442.7" y="429" font-size="6.6" textLength="11.5" lengthAdjust="spacingAndGlyphs">high</text>
<text x="457" y="432" font-size="9.3" textLength="19.3" lengthAdjust="spacingAndGlyphs">(n=7)</text>
<line x1="480" y1="403" x2="480" y2="429.6" stroke="#1a1a1a" stroke-width="1.2"/>
<text x="483.8" y="410.2" font-size="9.4" letter-spacing="0">***</text>
<path d="M401.05,444.3 L464.5,444.3" fill="none" stroke="#c9203d" stroke-width="1.4" stroke-linejoin="miter"/>
<line x1="464.5" y1="441.3" x2="464.5" y2="444.6" stroke="#222" stroke-width="0.9"/>
<path d="M401.05,444.5 L423.5,444.5 L423.5,455.5 L424.6,455.5 L424.6,466.7 L426.5,466.7 L426.5,500.3 L430.9,500.3 L430.9,511.5" fill="none" stroke="#3a5fa9" stroke-width="1.35" stroke-linejoin="miter"/>
<line x1="423.5" y1="453.7" x2="423.5" y2="455.8" stroke="#222" stroke-width="0.7"/>
<line x1="424.6" y1="464.9" x2="424.6" y2="467.0" stroke="#222" stroke-width="0.7"/>
<line x1="426.5" y1="498.5" x2="426.5" y2="500.6" stroke="#222" stroke-width="0.7"/>
<line x1="401.05" y1="437.2" x2="401.05" y2="512.4" stroke="#2b2b2b" stroke-width="1.9"/>
<line x1="400.15000000000003" y1="511.5" x2="479" y2="511.5" stroke="#2b2b2b" stroke-width="1.9"/>
<line x1="397.15000000000003" y1="444.3" x2="401.05" y2="444.3" stroke="#222" stroke-width="1.1"/>
<text x="394.45" y="447.7" font-size="9.6" text-anchor="end" textLength="14.6" lengthAdjust="spacingAndGlyphs">100</text>
<line x1="397.15000000000003" y1="477.9" x2="401.05" y2="477.9" stroke="#222" stroke-width="1.1"/>
<text x="394.45" y="481.3" font-size="9.6" text-anchor="end" textLength="10.0" lengthAdjust="spacingAndGlyphs">50</text>
<line x1="397.15000000000003" y1="511.5" x2="401.05" y2="511.5" stroke="#222" stroke-width="1.1"/>
<text x="394.45" y="514.9" font-size="9.6" text-anchor="end" textLength="5.0" lengthAdjust="spacingAndGlyphs">0</text>
<line x1="401.05" y1="511.5" x2="401.05" y2="515.0" stroke="#222" stroke-width="1.1"/>
<text x="401.05" y="526.4" font-size="9.6" text-anchor="middle" textLength="5.0" lengthAdjust="spacingAndGlyphs">0</text>
<line x1="419.5" y1="511.5" x2="419.5" y2="515.0" stroke="#222" stroke-width="1.1"/>
<text x="419.5" y="526.4" font-size="9.6" text-anchor="middle" textLength="14.4" lengthAdjust="spacingAndGlyphs">100</text>
<line x1="438" y1="511.5" x2="438" y2="515.0" stroke="#222" stroke-width="1.1"/>
<text x="438" y="526.4" font-size="9.6" text-anchor="middle" textLength="14.4" lengthAdjust="spacingAndGlyphs">200</text>
<line x1="456.45" y1="511.5" x2="456.45" y2="515.0" stroke="#222" stroke-width="1.1"/>
<text x="456.45" y="526.4" font-size="9.6" text-anchor="middle" textLength="14.4" lengthAdjust="spacingAndGlyphs">300</text>
<line x1="474.9" y1="511.5" x2="474.9" y2="515.0" stroke="#222" stroke-width="1.1"/>
<text x="474.9" y="526.4" font-size="9.6" text-anchor="middle" textLength="14.4" lengthAdjust="spacingAndGlyphs">400</text>
<text x="438.2" y="541.2" font-size="10.6" text-anchor="middle" textLength="73.4" lengthAdjust="spacingAndGlyphs">Time after TX (days)</text>
<text transform="translate(372.5,474.29999999999995) rotate(-90)" font-size="10.6" text-anchor="middle" textLength="46" lengthAdjust="spacingAndGlyphs">Survival (%)</text>
</g>
<g id="pG">
<text x="87.5" y="593" font-size="9.2" font-weight="bold" textLength="20.6" lengthAdjust="spacingAndGlyphs" fill="#000">L707</text>
<line x1="87.5" y1="594.8" x2="108.2" y2="594.8" stroke="#000" stroke-width="0.8"/>
<text x="112.3" y="583.6" font-size="9.9" textLength="71.4" lengthAdjust="spacingAndGlyphs">Treatment period</text>
<line x1="122.8" y1="591.6" x2="173.7" y2="591.6" stroke="#141414" stroke-width="1.1"/>
<line x1="122.8" y1="589.1" x2="122.8" y2="594.1" stroke="#141414" stroke-width="1.1"/>
<line x1="173.7" y1="589.1" x2="173.7" y2="594.1" stroke="#141414" stroke-width="1.1"/>
<text x="93.8" y="607" font-size="9.9" text-anchor="end" textLength="25.4" lengthAdjust="spacingAndGlyphs">Week:</text>
<text x="108.8" y="607" font-size="9.8" text-anchor="middle" textLength="5.3" lengthAdjust="spacingAndGlyphs">0</text>
<text x="134.9" y="607" font-size="9.8" text-anchor="middle" textLength="5.3" lengthAdjust="spacingAndGlyphs">2</text>
<text x="161.3" y="607" font-size="9.8" text-anchor="middle" textLength="5.3" lengthAdjust="spacingAndGlyphs">4</text>
<text x="187.7" y="607" font-size="9.8" text-anchor="middle" textLength="5.3" lengthAdjust="spacingAndGlyphs">7</text>
<text x="214.4" y="607" font-size="9.8" text-anchor="middle" textLength="10.1" lengthAdjust="spacingAndGlyphs">11</text>
<text x="94.2" y="630" font-size="9.9" text-anchor="end" textLength="33.5" lengthAdjust="spacingAndGlyphs">Ctrl n=5</text>
<text x="74.2" y="658.9" font-size="9.9" text-anchor="middle" textLength="39.4" lengthAdjust="spacingAndGlyphs">VEN/DEX</text>
<text x="75" y="670" font-size="9.9" text-anchor="middle" textLength="16" lengthAdjust="spacingAndGlyphs">n=5</text>
<text x="94.2" y="696" font-size="9.9" text-anchor="end" textLength="35.6" lengthAdjust="spacingAndGlyphs">INO n=6</text>
<text x="64.2" y="718.4" font-size="9.9" text-anchor="middle" textLength="60" lengthAdjust="spacingAndGlyphs">VEN/DEX/INO</text>
<text x="64.4" y="729" font-size="9.9" text-anchor="middle" textLength="16" lengthAdjust="spacingAndGlyphs">n=5</text>
<rect x="97.8" y="612.5" width="23.1" height="29.6" fill="#242424"/><rect x="98.3" y="613.0" width="22.1" height="28.6" fill="#323232"/>
<rect x="124.2" y="612.5" width="23.1" height="29.6" fill="#242424"/><rect x="124.7" y="613.0" width="22.1" height="28.6" fill="#323232"/>
<rect x="97.8" y="645.4" width="23.1" height="29.6" fill="#242424"/><rect x="98.3" y="645.9" width="22.1" height="28.6" fill="#323232"/>
<rect x="124.2" y="645.4" width="23.1" height="29.6" fill="#242424"/><rect x="124.7" y="645.9" width="22.1" height="28.6" fill="#323232"/>
<rect x="149.5" y="645.4" width="23.1" height="29.6" fill="#242424"/><rect x="150.0" y="645.9" width="22.1" height="28.6" fill="#323232"/>
<rect x="97.8" y="677.7" width="23.1" height="29.6" fill="#242424"/><rect x="98.3" y="678.2" width="22.1" height="28.6" fill="#323232"/>
<rect x="124.2" y="677.7" width="23.1" height="29.6" fill="#242424"/><rect x="124.7" y="678.2" width="22.1" height="28.6" fill="#323232"/>
<rect x="97.8" y="708.3" width="23.1" height="29.1" fill="#242424"/><rect x="98.3" y="708.8" width="22.1" height="28.1" fill="#323232"/>
<rect x="124.2" y="708.3" width="23.1" height="29.1" fill="#242424"/><rect x="124.7" y="708.8" width="22.1" height="28.1" fill="#323232"/>
<rect x="149.5" y="708.3" width="23.1" height="29.1" fill="#242424"/><rect x="150.0" y="708.8" width="22.1" height="28.1" fill="#323232"/>
<rect x="175.4" y="708.3" width="23.1" height="29.1" fill="#242424"/><rect x="175.9" y="708.8" width="22.1" height="28.1" fill="#323232"/>
<rect x="200.2" y="708.3" width="23.1" height="29.1" fill="#242424"/><rect x="200.7" y="708.8" width="22.1" height="28.1" fill="#323232"/>
<g filter="url(#bl)">
<use href="#m2" x="97.8" y="612.5" width="23.1" height="29.6"/>
<use href="#o_g1" x="97.8" y="612.5" width="23.1" height="29.6"/>
<use href="#m2" x="124.2" y="612.5" width="23.1" height="29.6"/>
<use href="#o_h3g" x="124.2" y="612.5" width="23.1" height="29.6"/>
<use href="#m2" x="97.8" y="645.4" width="23.1" height="29.6"/>
<use href="#o_g1" x="97.8" y="645.4" width="23.1" height="29.6"/>
<use href="#m2" x="124.2" y="645.4" width="23.1" height="29.6"/>
<use href="#o_L" x="124.2" y="645.4" width="23.1" height="29.6"/>
<use href="#m2" x="149.5" y="645.4" width="23.1" height="29.6"/>
<use href="#o_L" x="149.5" y="645.4" width="23.1" height="29.6"/>
<use href="#m2" x="97.8" y="677.7" width="23.1" height="29.6"/>
<use href="#o_l" x="97.8" y="677.7" width="23.1" height="29.6"/>
<use href="#m2" x="124.2" y="677.7" width="23.1" height="29.6"/>
<use href="#o_h3h" x="124.2" y="677.7" width="23.1" height="29.6"/>
<use href="#m2" x="97.8" y="708.3" width="23.1" height="29.1"/>
<use href="#o_s3" x="97.8" y="708.3" width="23.1" height="29.1"/>
<use href="#m2" x="124.2" y="708.3" width="23.1" height="29.1"/>
<use href="#m2" x="149.5" y="708.3" width="23.1" height="29.1"/>
<use href="#m2" x="175.4" y="708.3" width="23.1" height="29.1"/>
<use href="#m2" x="200.2" y="708.3" width="23.1" height="29.1"/>
</g>
<line x1="161.3" y1="613" x2="161.3" y2="638.8" stroke="#141414" stroke-width="1.15"/>
<line x1="154.6" y1="622.5" x2="168" y2="622.5" stroke="#141414" stroke-width="1.15"/>
<line x1="184.8" y1="645.4" x2="184.8" y2="671" stroke="#141414" stroke-width="1.15"/>
<line x1="178.2" y1="654" x2="191.6" y2="654" stroke="#141414" stroke-width="1.15"/>
<line x1="161.3" y1="677.7" x2="161.3" y2="703.4" stroke="#141414" stroke-width="1.15"/>
<line x1="154.6" y1="687.1" x2="168" y2="687.1" stroke="#141414" stroke-width="1.15"/>
<line x1="122.8" y1="601" x2="122.8" y2="738.4" stroke="#e0201c" stroke-width="1.3" stroke-dasharray="4.7 1.9"/>
<line x1="173.8" y1="601" x2="173.8" y2="738.4" stroke="#e0201c" stroke-width="1.3" stroke-dasharray="4.7 1.9"/>
<rect x="239" y="622.4" width="3.8" height="89" fill="url(#cb)"/>
<rect x="239.3" y="622.6999999999999" width="3.1999999999999997" height="88.4" fill="none" stroke="#000" stroke-width="0.6" opacity="0.6"/>
<line x1="242.8" y1="622.4" x2="246.4" y2="622.4" stroke="#000" stroke-width="1.05"/>
<line x1="242.8" y1="625.96" x2="244.60000000000002" y2="625.96" stroke="#000" stroke-width="1.05"/>
<line x1="242.8" y1="629.52" x2="244.60000000000002" y2="629.52" stroke="#000" stroke-width="1.05"/>
<line x1="242.8" y1="633.08" x2="244.60000000000002" y2="633.08" stroke="#000" stroke-width="1.05"/>
<line x1="242.8" y1="636.64" x2="244.60000000000002" y2="636.64" stroke="#000" stroke-width="1.05"/>
<line x1="242.8" y1="640.2" x2="246.4" y2="640.2" stroke="#000" stroke-width="1.05"/>
<line x1="242.8" y1="643.76" x2="244.60000000000002" y2="643.76" stroke="#000" stroke-width="1.05"/>
<line x1="242.8" y1="647.32" x2="244.60000000000002" y2="647.32" stroke="#000" stroke-width="1.05"/>
<line x1="242.8" y1="650.88" x2="244.60000000000002" y2="650.88" stroke="#000" stroke-width="1.05"/>
<line x1="242.8" y1="654.44" x2="244.60000000000002" y2="654.44" stroke="#000" stroke-width="1.05"/>
<line x1="242.8" y1="658.0" x2="246.4" y2="658.0" stroke="#000" stroke-width="1.05"/>
<line x1="242.8" y1="661.56" x2="244.60000000000002" y2="661.56" stroke="#000" stroke-width="1.05"/>
<line x1="242.8" y1="665.12" x2="244.60000000000002" y2="665.12" stroke="#000" stroke-width="1.05"/>
<line x1="242.8" y1="668.68" x2="244.60000000000002" y2="668.68" stroke="#000" stroke-width="1.05"/>
<line x1="242.8" y1="672.24" x2="244.60000000000002" y2="672.24" stroke="#000" stroke-width="1.05"/>
<line x1="242.8" y1="675.8" x2="246.4" y2="675.8" stroke="#000" stroke-width="1.05"/>
<line x1="242.8" y1="679.36" x2="244.60000000000002" y2="679.36" stroke="#000" stroke-width="1.05"/>
<line x1="242.8" y1="682.92" x2="244.60000000000002" y2="682.92" stroke="#000" stroke-width="1.05"/>
<line x1="242.8" y1="686.48" x2="244.60000000000002" y2="686.48" stroke="#000" stroke-width="1.05"/>
<line x1="242.8" y1="690.04" x2="244.60000000000002" y2="690.04" stroke="#000" stroke-width="1.05"/>
<line x1="242.8" y1="693.6" x2="246.4" y2="693.6" stroke="#000" stroke-width="1.05"/>
<line x1="242.8" y1="697.16" x2="244.60000000000002" y2="697.16" stroke="#000" stroke-width="1.05"/>
<line x1="242.8" y1="700.72" x2="244.60000000000002" y2="700.72" stroke="#000" stroke-width="1.05"/>
<line x1="242.8" y1="704.28" x2="244.60000000000002" y2="704.28" stroke="#000" stroke-width="1.05"/>
<line x1="242.8" y1="707.84" x2="244.60000000000002" y2="707.84" stroke="#000" stroke-width="1.05"/>
<text x="249.6" y="625.7" font-size="9.2" textLength="12.7" lengthAdjust="spacingAndGlyphs">1.0</text>
<text x="249.6" y="643.5" font-size="9.2" textLength="12.7" lengthAdjust="spacingAndGlyphs">0.8</text>
<text x="249.6" y="661.3" font-size="9.2" textLength="12.7" lengthAdjust="spacingAndGlyphs">0.6</text>
<text x="249.6" y="679.1" font-size="9.2" textLength="12.7" lengthAdjust="spacingAndGlyphs">0.4</text>
<text x="249.6" y="696.9" font-size="9.2" textLength="12.7" lengthAdjust="spacingAndGlyphs">0.2</text>
<text x="266" y="669.8" font-size="10.5" textLength="13.2" lengthAdjust="spacingAndGlyphs">x10</text>
<text x="279.7" y="666.1999999999999" font-size="8" textLength="4.1" lengthAdjust="spacingAndGlyphs">6</text>
<text x="232.7" y="601" font-size="9.2" textLength="35" lengthAdjust="spacingAndGlyphs">radiance</text>
<text x="232.7" y="611.6" font-size="9.2">(p/sec/cm<tspan font-size="7" dy="-3">2</tspan><tspan dy="3">/sr)</tspan></text>
</g>
<g id="pH">
<line x1="367.8" y1="583.7" x2="379.8" y2="583.7" stroke="#7b3fa0" stroke-width="1.1"/>
<line x1="373.8" y1="581.5" x2="373.8" y2="583.7" stroke="#111" stroke-width="0.8"/>
<text x="383.7" y="585.1" font-size="9.3" textLength="34.6" lengthAdjust="spacingAndGlyphs">ctrl (n=5)</text>
<line x1="367.8" y1="596.7" x2="379.8" y2="596.7" stroke="#79c143" stroke-width="1.1"/>
<line x1="373.8" y1="594.5" x2="373.8" y2="596.7" stroke="#111" stroke-width="0.8"/>
<text x="383.7" y="598.1" font-size="9.3" textLength="59.4" lengthAdjust="spacingAndGlyphs">VEN/DEX (n=5)</text>
<line x1="367.8" y1="609.6" x2="379.8" y2="609.6" stroke="#3a5fa9" stroke-width="1.1"/>
<line x1="373.8" y1="607.4" x2="373.8" y2="609.6" stroke="#111" stroke-width="0.8"/>
<text x="383.7" y="611.0" font-size="9.3" textLength="38.1" lengthAdjust="spacingAndGlyphs">INO (n=6)</text>
<line x1="367.8" y1="622.2" x2="379.8" y2="622.2" stroke="#c9203d" stroke-width="1.1"/>
<line x1="373.8" y1="620.0" x2="373.8" y2="622.2" stroke="#111" stroke-width="0.8"/>
<text x="383.7" y="623.6" font-size="9.3" textLength="78.8" lengthAdjust="spacingAndGlyphs">VEN/DEX/INO (n=5)</text>
<line x1="471.7" y1="581.8" x2="471.7" y2="621.8" stroke="#1a1a1a" stroke-width="1.2"/>
<line x1="486.2" y1="594.8" x2="486.2" y2="621.8" stroke="#1a1a1a" stroke-width="1.2"/>
<line x1="500.6" y1="607.4" x2="500.6" y2="621.8" stroke="#1a1a1a" stroke-width="1.2"/>
<text x="475.4" y="589.6" font-size="9.4" letter-spacing="0">***</text>
<text x="490" y="602.4000000000001" font-size="9.4" letter-spacing="0">***</text>
<text x="504.6" y="615.4000000000001" font-size="9.4" letter-spacing="0">**</text>
<path d="M401.05,635.6 L425.3,635.6 L425.3,649.98 L429.3,649.98 L429.3,663.46 L430.1,663.46 L430.1,676.94 L431.3,676.94 L431.3,688.94 L470.8,688.94" fill="none" stroke="#c9203d" stroke-width="1.4" stroke-linejoin="miter"/>
<line x1="425.3" y1="648.1800000000001" x2="425.3" y2="650.28" stroke="#222" stroke-width="0.7"/>
<line x1="429.3" y1="661.6600000000001" x2="429.3" y2="663.76" stroke="#222" stroke-width="0.7"/>
<line x1="430.1" y1="675.1400000000001" x2="430.1" y2="677.24" stroke="#222" stroke-width="0.7"/>
<line x1="431.3" y1="687.1400000000001" x2="431.3" y2="689.24" stroke="#222" stroke-width="0.7"/>
<line x1="470.8" y1="685.94" x2="470.8" y2="689.24" stroke="#222" stroke-width="0.9"/>
<path d="M401.05,636.7 L412.8,636.7 L412.8,658.96 L413.7,658.96 L413.7,681.44 L416.1,681.44 L416.1,692.66 L424.1,692.66 L424.1,703.9" fill="none" stroke="#3a5fa9" stroke-width="1.35" stroke-linejoin="miter"/>
<line x1="412.8" y1="657.1600000000001" x2="412.8" y2="659.26" stroke="#222" stroke-width="0.7"/>
<line x1="413.7" y1="679.6400000000001" x2="413.7" y2="681.74" stroke="#222" stroke-width="0.7"/>
<line x1="416.1" y1="690.86" x2="416.1" y2="692.9599999999999" stroke="#222" stroke-width="0.7"/>
<path d="M401.05,636.5 L414.2,636.5 L414.2,703.9" fill="none" stroke="#79c143" stroke-width="1.35" stroke-linejoin="miter"/>
<path d="M401.05,636.5 L409.7,636.5 L409.7,649.98 L412.0,649.98 L412.0,676.94 L413.5,676.94 L413.5,703.9" fill="none" stroke="#7b3fa0" stroke-width="1.35" stroke-linejoin="miter"/>
<line x1="409.7" y1="648.1800000000001" x2="409.7" y2="650.28" stroke="#222" stroke-width="0.7"/>
<line x1="412.0" y1="675.1400000000001" x2="412.0" y2="677.24" stroke="#222" stroke-width="0.7"/>
<line x1="401.05" y1="629.3" x2="401.05" y2="704.8" stroke="#2b2b2b" stroke-width="1.9"/>
<line x1="400.15000000000003" y1="703.9" x2="479" y2="703.9" stroke="#2b2b2b" stroke-width="1.9"/>
<line x1="397.15000000000003" y1="636.5" x2="401.05" y2="636.5" stroke="#222" stroke-width="1.1"/>
<text x="394.45" y="639.9" font-size="9.6" text-anchor="end" textLength="14.6" lengthAdjust="spacingAndGlyphs">100</text>
<line x1="397.15000000000003" y1="670.2" x2="401.05" y2="670.2" stroke="#222" stroke-width="1.1"/>
<text x="394.45" y="673.6" font-size="9.6" text-anchor="end" textLength="10.0" lengthAdjust="spacingAndGlyphs">50</text>
<line x1="397.15000000000003" y1="703.9" x2="401.05" y2="703.9" stroke="#222" stroke-width="1.1"/>
<text x="394.45" y="707.3" font-size="9.6" text-anchor="end" textLength="5.0" lengthAdjust="spacingAndGlyphs">0</text>
<line x1="401.05" y1="703.9" x2="401.05" y2="707.4" stroke="#222" stroke-width="1.1"/>
<text x="401.05" y="718" font-size="9.6" text-anchor="middle" textLength="5.0" lengthAdjust="spacingAndGlyphs">0</text>
<line x1="419.6" y1="703.9" x2="419.6" y2="707.4" stroke="#222" stroke-width="1.1"/>
<text x="419.6" y="718" font-size="9.6" text-anchor="middle" textLength="9.8" lengthAdjust="spacingAndGlyphs">60</text>
<line x1="438" y1="703.9" x2="438" y2="707.4" stroke="#222" stroke-width="1.1"/>
<text x="438" y="718" font-size="9.6" text-anchor="middle" textLength="14.4" lengthAdjust="spacingAndGlyphs">120</text>
<line x1="456.4" y1="703.9" x2="456.4" y2="707.4" stroke="#222" stroke-width="1.1"/>
<text x="456.4" y="718" font-size="9.6" text-anchor="middle" textLength="14.4" lengthAdjust="spacingAndGlyphs">180</text>
<line x1="474.8" y1="703.9" x2="474.8" y2="707.4" stroke="#222" stroke-width="1.1"/>
<text x="474.8" y="718" font-size="9.6" text-anchor="middle" textLength="14.4" lengthAdjust="spacingAndGlyphs">240</text>
<text x="438.4" y="733.6" font-size="10.6" text-anchor="middle" textLength="73.4" lengthAdjust="spacingAndGlyphs">Time after TX (days)</text>
<text transform="translate(372.5,666.6) rotate(-90)" font-size="10.6" text-anchor="middle" textLength="46" lengthAdjust="spacingAndGlyphs">Survival (%)</text>
</g>
</g>
<rect x="0" y="0" width="520" height="1.3" fill="#000"/>
<rect x="0" y="0" width="1.4" height="747" fill="#000"/>
<rect x="518.5" y="0" width="1.5" height="747" fill="#000"/>
<rect x="0" y="745" width="520" height="2" fill="#000"/>
</svg></body></html>
